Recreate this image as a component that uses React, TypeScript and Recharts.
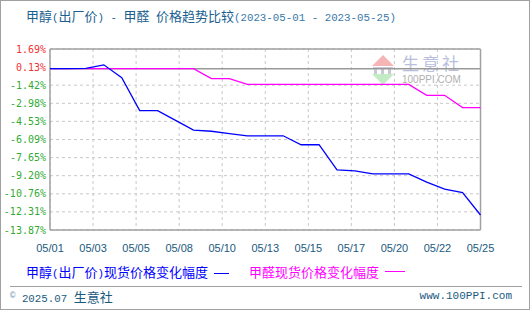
import React from 'react';
import { LineChart, Line, XAxis, YAxis, CartesianGrid, ReferenceLine } from 'recharts';

const dates = [
  '05/01', '05/02', '05/03', '05/04', '05/05', '05/06', '05/07', '05/08', '05/09', '05/10',
  '05/11', '05/12', '05/13', '05/14', '05/15', '05/16', '05/17', '05/18', '05/19', '05/20',
  '05/21', '05/22', '05/23', '05/24', '05/25',
];
const methanol = [
  0, 0, 0.02, 0.33, -0.77, -3.61, -3.61, -4.45, -5.28, -5.38,
  -5.59, -5.77, -5.77, -5.77, -6.54, -6.54, -8.7, -8.78, -9.04, -9.04,
  -9.04, -9.76, -10.36, -10.65, -12.58,
];
const formaldehyde = [
  0, 0, 0, 0, 0, 0, 0, 0, 0, -0.85,
  -0.85, -1.35, -1.35, -1.35, -1.35, -1.35, -1.35, -1.35, -1.35, -1.35,
  -1.35, -2.29, -2.29, -3.35, -3.35,
];
const yTicks = [1.69, 0.13, -1.42, -2.98, -4.53, -6.09, -7.65, -9.2, -10.76, -12.31, -13.87];
const xTicks = [0, 2.4, 4.8, 7.2, 9.6, 12, 14.4, 16.8, 19.2, 21.6, 24];
const seriesNames = ['甲醇(出厂价)现货价格变化幅度', '甲醛现货价格变化幅度'];
const titleMain = '甲醇(出厂价) - 甲醛 价格趋势比较';
const titleRange = '(2023-05-01 - 2023-05-25)';

const data = dates.map((d, i) => ({ idx: i, date: d, methanol: methanol[i], formaldehyde: formaldehyde[i] }));

const cjkFont = '"Noto Sans CJK SC", sans-serif';
const monoFont = '"Liberation Mono", "DejaVu Sans Mono", monospace';

// renders CJK runs at 13px and latin runs at a narrow half-width mono size
const Mixed = ({ text }: { text: string }) => {
  const parts = text.split(/([\u3000-\u9fff\uff00-\uffef]+)/).filter(p => p.length > 0);
  return (
    <>
      {parts.map((p, i) =>
        /[\u3000-\u9fff\uff00-\uffef]/.test(p)
          ? <span key={i} style={{ fontFamily: cjkFont, fontSize: 13 }}>{p}</span>
          : <span key={i} style={{ fontFamily: monoFont, fontSize: 10.8, whiteSpace: 'pre' }}>{p}</span>
      )}
    </>
  );
};

const YTick = (props: any) => {
  const { x, y, payload } = props;
  const v = payload.value as number;
  return (
    <text x={x + 4} y={y} textAnchor="end" dominantBaseline="central"
      fontFamily='"DejaVu Sans Mono", monospace' fontSize={10}
      fill={v >= 0 ? '#ee3333' : '#33aa33'}>
      {v.toFixed(2) + '%'}
    </text>
  );
};

const XTick = (props: any) => {
  const { x, y, payload } = props;
  const label = dates[Math.floor(payload.value + 1e-6)];
  return (
    <text x={x} y={y + 10} textAnchor="middle" dominantBaseline="central"
      fontFamily='"Liberation Sans", Arial, sans-serif' fontSize={11} fill="#1a5a80">
      {label}
    </text>
  );
};

export default function App() {
  const border = '#a0a0a0';
  return (
    <div style={{ position: 'absolute', left: 0, top: 0, width: 530, height: 310, background: '#fff', overflow: 'hidden' }}>
      {/* title */}
      <div style={{ position: 'absolute', left: 26, top: 7, whiteSpace: 'nowrap', lineHeight: '17px' }}>
        <span style={{ color: '#1a5f8f' }}><Mixed text={titleMain} /></span>
        <span style={{ color: '#3a78a8' }}><Mixed text={titleRange} /></span>
      </div>
      {/* watermark */}
      <div style={{ position: 'absolute', left: 370, top: 54, width: 100, height: 34 }}>
        <svg width={26} height={34} style={{ position: 'absolute', left: 0, top: 0 }}>
          <polygon points="2,12 13,1 24,12" fill="#f5b5b5" />
          <rect x={3} y={13} width={20} height={2} fill="#c8c8d8" />
          <rect x={4} y={15} width={3} height={5} fill="#c8c8d8" />
          <rect x={11} y={15} width={3} height={5} fill="#c8c8d8" />
          <rect x={18} y={15} width={3} height={5} fill="#c8c8d8" />
          <polygon points="2,20 24,20 13,31" fill="#c4ecc4" />
        </svg>
        <div style={{ position: 'absolute', left: 32, top: 0, fontFamily: cjkFont, fontSize: 17, letterSpacing: 3, color: '#b8bedc', lineHeight: '18px', whiteSpace: 'nowrap' }}>生意社</div>
        <div style={{ position: 'absolute', left: 32, top: 20, fontFamily: '"Liberation Sans", Arial, sans-serif', fontSize: 10, color: '#b0b0b0', lineHeight: '12px', whiteSpace: 'nowrap' }}>100PPI.COM</div>
      </div>
      {/* chart */}
      <div style={{ position: 'absolute', left: 0, top: 0 }}>
        <LineChart width={530} height={270} data={data} margin={{ top: 49, right: 49.5, bottom: 10, left: 0 }}>
          <CartesianGrid stroke="#c8c8c8" strokeDasharray="3 3" strokeWidth={1}
            horizontalValues={yTicks.filter(t => t !== 0.13)} verticalValues={xTicks} />
          <XAxis dataKey="idx" type="number" domain={[0, 24]} ticks={xTicks} interval={0}
            axisLine={false} tickLine={false} tick={<XTick />} height={30} />
          <YAxis type="number" domain={[-13.87, 1.69]} ticks={yTicks} interval={0}
            axisLine={false} tickLine={false} tick={<YTick />} width={50} />
          <ReferenceLine y={0} stroke="#999" strokeWidth={1.5} />
          <ReferenceLine y={1.69} stroke={border} strokeWidth={1.5} />
          <ReferenceLine y={-13.87} stroke={border} strokeWidth={1.5} />
          <ReferenceLine x={0} stroke={border} strokeWidth={1.5} />
          <ReferenceLine x={24} stroke={border} strokeWidth={1.5} />
          <Line type="linear" dataKey="formaldehyde" stroke="#ff00ff" strokeWidth={1.3} dot={false} isAnimationActive={false} />
          <Line type="linear" dataKey="methanol" stroke="#0000ff" strokeWidth={1.3} dot={false} isAnimationActive={false} />
        </LineChart>
      </div>
      {/* legend */}
      <div style={{ position: 'absolute', left: 26, top: 263, lineHeight: '17px', whiteSpace: 'nowrap', display: 'flex', alignItems: 'center' }}>
        <span style={{ color: '#0000ff' }}><Mixed text={seriesNames[0]} /></span>
        <span style={{ display: 'inline-block', width: 15, height: 1, background: '#0000ff', marginLeft: 6 }} />
      </div>
      <div style={{ position: 'absolute', left: 249, top: 263, lineHeight: '17px', whiteSpace: 'nowrap', display: 'flex', alignItems: 'center' }}>
        <span style={{ color: '#ff00ff' }}><Mixed text={seriesNames[1]} /></span>
        <span style={{ display: 'inline-block', width: 20, height: 1, background: '#ff00ff', marginLeft: 6 }} />
      </div>
      {/* footer */}
      <div style={{ position: 'absolute', left: 10, top: 286, width: 512, height: 1, background: '#a0a0a0' }} />
      <div style={{ position: 'absolute', left: 10, top: 288, lineHeight: '17px', color: '#1a5a80', whiteSpace: 'nowrap' }}>
        <span style={{ fontSize: 9, color: '#7a9ab0', verticalAlign: 'top', fontFamily: monoFont }}>©</span>
        <Mixed text=" 2025.07 生意社" />
      </div>
      <div style={{ position: 'absolute', right: 18, top: 289, fontFamily: monoFont, fontSize: 11, lineHeight: '15px', color: '#1a5a80', whiteSpace: 'nowrap' }}>
        www.100PPI.com
      </div>
      <div style={{ position: 'absolute', left: 0, top: 0, width: 530, height: 310, boxSizing: 'border-box', border: '1px solid #a0a0a0', pointerEvents: 'none' }} />
    </div>
  );
}
